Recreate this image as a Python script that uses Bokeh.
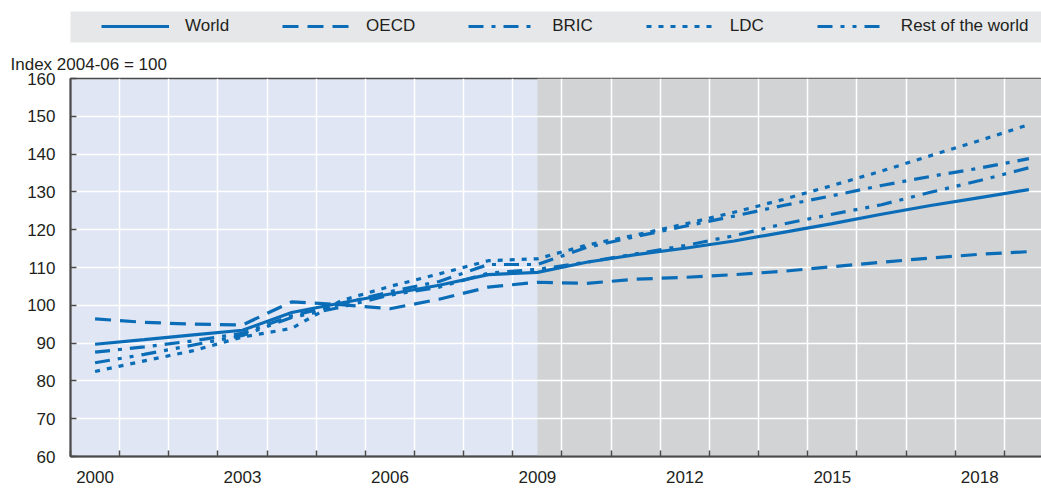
from bokeh.plotting import figure
from bokeh.models import Range1d, FixedTicker, BoxAnnotation, Legend, LegendItem
from bokeh.layouts import column
from bokeh.embed import file_html
from bokeh.resources import INLINE

# ---------------- data ----------------
years = list(range(2000, 2020))
world = [89.7, 90.9, 92.2, 93.4, 98.1, 100.6, 103.0, 105.3, 108.1, 108.7,
         111.4, 113.4, 115.1, 117.0, 119.3, 121.6, 124.1, 126.4, 128.5, 130.6]
oecd = [96.4, 95.5, 95.0, 94.8, 100.9, 100.2, 99.1, 101.6, 104.8, 106.1,
        105.8, 106.9, 107.4, 108.1, 109.0, 110.2, 111.4, 112.5, 113.5, 114.2]
bric = [87.6, 89.0, 90.6, 92.6, 97.2, 100.3, 103.6, 106.3, 110.8, 110.8,
        115.3, 118.2, 120.9, 123.6, 126.4, 129.0, 131.7, 134.1, 136.3, 138.8]
ldc = [82.5, 85.3, 88.0, 91.6, 93.9, 101.2, 105.0, 108.3, 111.8, 112.3,
       115.9, 118.6, 121.5, 124.6, 128.0, 131.7, 135.5, 139.6, 143.6, 147.8]
rest = [84.8, 87.0, 89.5, 92.0, 96.8, 99.5, 102.7, 104.8, 108.5, 109.5,
        111.4, 113.6, 115.8, 118.4, 121.5, 124.1, 126.6, 129.9, 133.0, 136.4]
series_names = ["World", "OECD", "BRIC", "LDC", "Rest of the world"]
x_label_years = [2000, 2003, 2006, 2009, 2012, 2015, 2018]
y_ticks = [60, 70, 80, 90, 100, 110, 120, 130, 140, 150, 160]
projection_start = 2009
y_title = "Index 2004-06 = 100"

# ---------------- style ----------------
BLUE = "#0b6db7"
FONT = "Liberation Sans"
TXT = "#231f20"
AXIS = "#4a4a4a"
HIST_BG = "#e0e6f3"
PROJ_BG = "#d2d3d5"
LEG_BG = "#e6e7e8"
dashes = ["solid", "16 9", "15 8 4 8", "5 7", "15 8 4 8 4 8"]
LW = 3.2

series = [world, oecd, bric, ldc, rest]

# ---------------- main chart ----------------
p = figure(width=1041, height=444, output_backend="svg", toolbar_location=None,
           x_range=Range1d(years[0] - 0.5, years[-1] + 0.256),
           y_range=Range1d(y_ticks[0], y_ticks[-1]),
           min_border_left=70, min_border_right=0, min_border_top=34,
           min_border_bottom=32)
p.background_fill_color = HIST_BG
p.border_fill_color = "white"
p.outline_line_color = AXIS
p.outline_line_width = 1.5

p.add_layout(BoxAnnotation(left=projection_start, fill_color=PROJ_BG, fill_alpha=1,
                           line_color=None, level="image"))

for vals, dash in zip(series, dashes):
    p.line(years, vals, line_color=BLUE, line_width=LW, line_dash=dash)

boundaries = [y - 0.5 for y in years] + [years[-1] + 0.5]
xax = p.xaxis[0]
xax.ticker = FixedTicker(ticks=x_label_years, minor_ticks=boundaries)
xax.major_tick_in = 0
xax.major_tick_out = 0
xax.minor_tick_in = 6
xax.minor_tick_out = 0
xax.minor_tick_line_color = AXIS
xax.minor_tick_line_width = 1.5
xax.major_label_standoff = 14

yax = p.yaxis[0]
yax.ticker = FixedTicker(ticks=y_ticks)
yax.major_tick_in = 6
yax.major_tick_out = 0
yax.major_tick_line_color = AXIS
yax.major_tick_line_width = 1.5
yax.minor_tick_line_color = None
yax.major_label_standoff = 15

for ax in (xax, yax):
    ax.axis_line_color = AXIS
    ax.axis_line_width = 2
    ax.major_label_text_font = FONT
    ax.major_label_text_font_size = "17px"
    ax.major_label_text_color = TXT

p.xgrid.grid_line_color = None
p.xgrid.minor_grid_line_color = "white"
p.xgrid.minor_grid_line_width = 1.5
p.ygrid.grid_line_color = "white"
p.ygrid.grid_line_width = 1.5
p.xgrid.level = "underlay"
p.ygrid.level = "underlay"

p.title.text = y_title
p.title.align = "left"
p.title.offset = -60
p.title.text_font = FONT
p.title.text_font_size = "17px"
p.title.text_font_style = "normal"
p.title.text_color = TXT
p.title.standoff = 10

# ---------------- legend strip ----------------
pl = figure(width=1041, height=44, output_backend="svg", toolbar_location=None,
            x_range=Range1d(0, 1), y_range=Range1d(0, 1),
            x_axis_location=None, y_axis_location=None,
            min_border_left=70, min_border_right=0, min_border_top=11,
            min_border_bottom=2)
pl.background_fill_color = LEG_BG
pl.border_fill_color = "white"
pl.outline_line_color = None
pl.grid.visible = False

items = []
for name, vals, dash in zip(series_names, series, dashes):
    # legend sample renderers: same series, kept outside the strip's visible range
    r = pl.line(years, vals, line_color=BLUE, line_width=LW, line_dash=dash)
    items.append(LegendItem(label=name, renderers=[r]))

leg = Legend(items=items, orientation="horizontal", location=(31, 6),
             glyph_width=68, glyph_height=20, label_standoff=16, spacing=53,
             padding=0, margin=0, border_line_color=None,
             background_fill_alpha=0, label_text_font=FONT,
             label_text_font_size="17px", label_text_color=TXT)
pl.add_layout(leg, "center")

layout = column(pl, p, spacing=0)
open("out.html", "w").write(file_html(layout, INLINE))
